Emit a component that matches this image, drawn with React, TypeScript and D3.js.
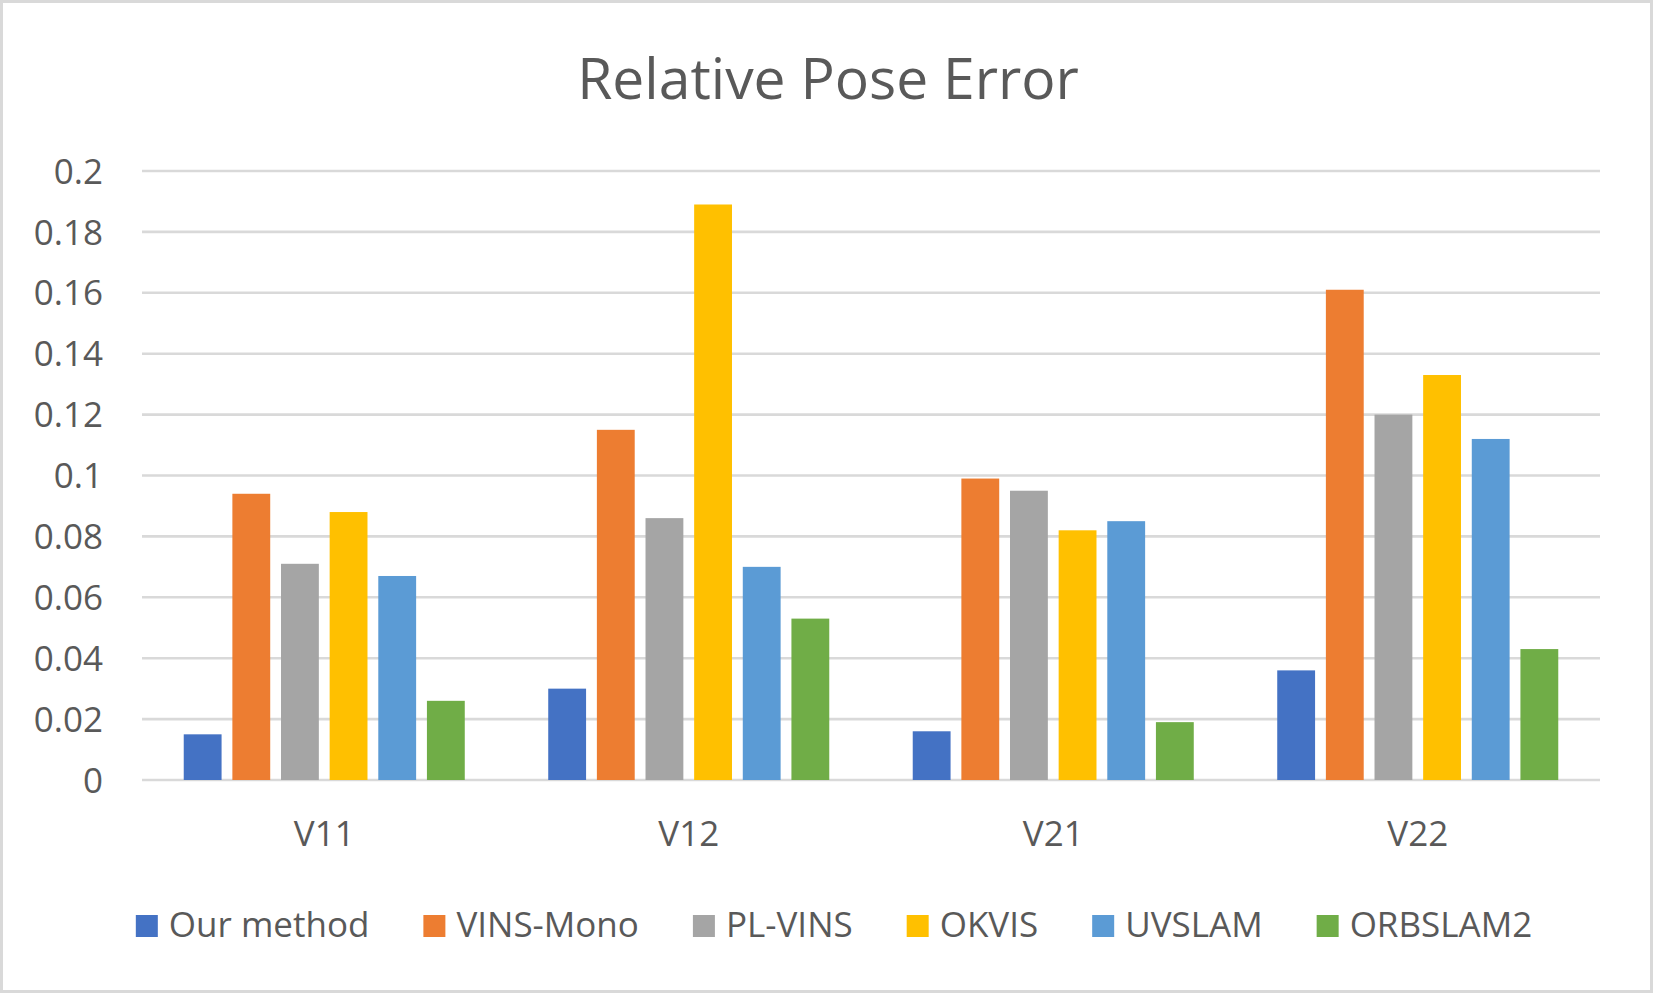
import React, { useRef, useEffect } from 'react';
import * as d3 from 'd3';

const categories = ['V11', 'V12', 'V21', 'V22'];
const seriesNames = ['Our method', 'VINS-Mono', 'PL-VINS', 'OKVIS', 'UVSLAM', 'ORBSLAM2'];
const seriesColors = ['#4472C4', '#ED7D31', '#A5A5A5', '#FFC000', '#5B9BD5', '#70AD47'];

// one array per method, values for V11, V12, V21, V22
const ourMethod = [0.015, 0.030, 0.016, 0.036];
const vinsMono = [0.094, 0.115, 0.099, 0.161];
const plVins = [0.071, 0.086, 0.095, 0.120];
const okvis = [0.088, 0.189, 0.082, 0.133];
const uvslam = [0.067, 0.070, 0.085, 0.112];
const orbslam2 = [0.026, 0.053, 0.019, 0.043];

const yTicks = [0, 0.02, 0.04, 0.06, 0.08, 0.1, 0.12, 0.14, 0.16, 0.18, 0.2];

const W = 1653;
const H = 993;
const FONT = '"Open Sans", "Noto Sans", sans-serif';
const TEXT = '#595959';

const App: React.FC = () => {
  const svgRef = useRef<SVGSVGElement | null>(null);

  useEffect(() => {
    document.body.style.margin = '0';
    if (!svgRef.current) return;
    const seriesValues = [ourMethod, vinsMono, plVins, okvis, uvslam, orbslam2];

    const svg = d3.select(svgRef.current);
    svg.selectAll('*').remove();

    const left = 142, right = 1600, top = 171, bottom = 780;

    svg.append('rect')
      .attr('x', 1.5).attr('y', 1.5)
      .attr('width', W - 3).attr('height', H - 3)
      .attr('fill', '#fff')
      .attr('stroke', '#d9d9d9')
      .attr('stroke-width', 3);

    const x0 = d3.scaleBand<string>()
      .domain(categories)
      .range([left, right])
      .paddingInner(0.229)
      .paddingOuter(0.1145);

    const x1 = d3.scaleBand<string>()
      .domain(seriesNames)
      .range([0, x0.bandwidth()])
      .paddingInner(0.222)
      .paddingOuter(0);

    const y = d3.scaleLinear().domain([0, 0.2]).range([bottom, top]);

    // gridlines
    svg.append('g')
      .selectAll('line')
      .data(yTicks)
      .enter().append('line')
      .attr('x1', left)
      .attr('x2', right)
      .attr('y1', d => y(d))
      .attr('y2', d => y(d))
      .attr('stroke', '#d9d9d9')
      .attr('stroke-width', 2.6);

    // y tick labels
    svg.append('g')
      .selectAll('text')
      .data(yTicks)
      .enter().append('text')
      .attr('x', 103)
      .attr('y', d => y(d))
      .attr('dy', '0.36em')
      .attr('text-anchor', 'end')
      .attr('font-family', FONT)
      .attr('font-size', 35)
      .attr('fill', TEXT)
      .text(d => d3.format('')(+d.toFixed(2)));

    // bars
    const groups = svg.append('g')
      .selectAll('g')
      .data(categories)
      .enter().append('g')
      .attr('transform', d => `translate(${x0(d)},0)`);

    groups.selectAll('rect')
      .data((_, ci) => seriesNames.map((name, si) => ({ name, si, value: seriesValues[si][ci] })))
      .enter().append('rect')
      .attr('x', d => x1(d.name) as number)
      .attr('width', x1.bandwidth())
      .attr('y', d => y(d.value))
      .attr('height', d => bottom - y(d.value))
      .attr('fill', d => seriesColors[d.si]);

    // category labels
    svg.append('g')
      .selectAll('text')
      .data(categories)
      .enter().append('text')
      .attr('x', d => (x0(d) as number) + x0.bandwidth() / 2)
      .attr('y', 846)
      .attr('text-anchor', 'middle')
      .attr('font-family', FONT)
      .attr('font-size', 35)
      .attr('fill', TEXT)
      .text(d => d);

    // title
    svg.append('text')
      .attr('x', 828)
      .attr('y', 99)
      .attr('text-anchor', 'middle')
      .attr('font-family', FONT)
      .attr('font-size', 57)
      .attr('fill', TEXT)
      .text('Relative Pose Error');

    // legend, laid out from measured text widths
    const legend = svg.append('g');
    const items = legend.selectAll('g')
      .data(seriesNames)
      .enter().append('g');
    items.append('rect')
      .attr('width', 22)
      .attr('height', 22)
      .attr('y', 915)
      .attr('fill', (_, i) => seriesColors[i]);
    const labels = items.append('text')
      .attr('x', 33)
      .attr('y', 937)
      .attr('font-family', FONT)
      .attr('font-size', 35)
      .attr('fill', TEXT)
      .text(d => d);

    const widths: number[] = [];
    labels.each(function () { widths.push((this as SVGTextElement).getComputedTextLength()); });
    const gap = 54;
    const total = d3.sum(widths) + widths.length * 33 + (widths.length - 1) * gap;
    let cx = 834 - total / 2;
    items.attr('transform', (_, i) => {
      const t = `translate(${cx},0)`;
      cx += 33 + widths[i] + gap;
      return t;
    });
  }, []);

  return <svg ref={svgRef} width={W} height={H} style={{ display: 'block' }} />;
};

export default App;
